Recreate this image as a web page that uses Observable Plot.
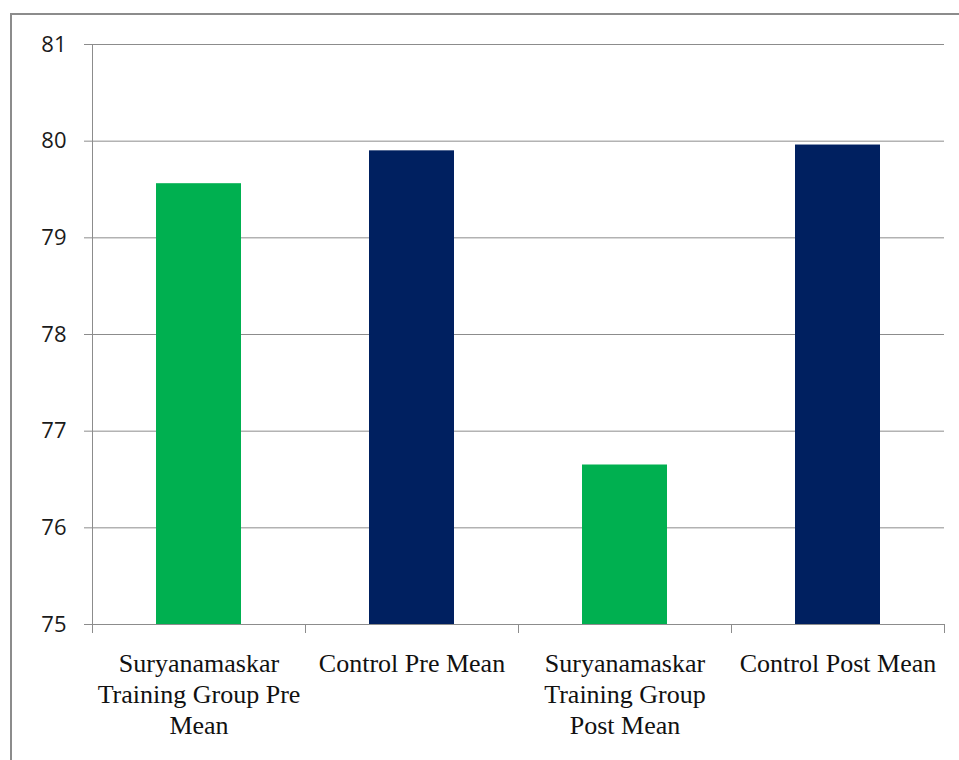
<!DOCTYPE html>
<html>
<head>
<meta charset="utf-8">
<script src="https://cdn.jsdelivr.net/npm/d3@7"></script>
<script src="https://cdn.jsdelivr.net/npm/@observablehq/plot@0.6"></script>
<style>
  html, body { margin: 0; padding: 0; background: #fff; overflow: hidden; }
  #chart { position: relative; width: 959px; height: 760px; }
  #border { position: absolute; left: 10px; top: 13px; width: 1000px; height: 800px;
            border: 2px solid #8c8c8c; box-sizing: border-box; }
  #chart svg { position: absolute; left: 0; top: 0; }
</style>
</head>
<body>
<div id="chart"><div id="border"></div></div>
<script>
// Group means before and after the Suryanamaskar programme
const categories = [
  "Suryanamaskar Training Group Pre Mean",
  "Control Pre Mean",
  "Suryanamaskar Training Group Post Mean",
  "Control Post Mean"
];
const tickLabels = [
  "Suryanamaskar\nTraining Group Pre\nMean",
  "Control Pre Mean",
  "Suryanamaskar\nTraining Group\nPost Mean",
  "Control Post Mean"
];
const means = [79.56, 79.90, 76.65, 79.96];
const groups = ["Training", "Control", "Training", "Control"];
const groupNames = ["Training", "Control"];
const groupColors = ["#00B050", "#002060"];
const yDomain = [75, 81];
const yTicks = [75, 76, 77, 78, 79, 80, 81];

const data = categories.map((c, i) => ({category: c, mean: means[i], group: groups[i]}));

const W = 959, H = 760, mL = 92, mR = 15, mT = 44, mB = 136;
const halfStep = (W - mL - mR) / categories.length / 2;
const lineColor = "#8c8c8c";
const emptyLabel = () => "";

const plot = Plot.plot({
  width: W,
  height: H,
  marginLeft: mL,
  marginRight: mR,
  marginTop: mT,
  marginBottom: mB,
  style: {background: "transparent", overflow: "visible"},
  x: {domain: categories, paddingInner: 0.6, paddingOuter: 0.3, axis: null},
  y: {domain: yDomain, axis: null},
  color: {domain: groupNames, range: groupColors},
  marks: [
    Plot.gridY(yTicks, {stroke: lineColor, strokeOpacity: 1, strokeWidth: 1}),
    Plot.axisY(yTicks, {
      label: null, tickFormat: "d",
      tickSize: 8, tickPadding: 18, stroke: lineColor, strokeOpacity: 1,
      fontFamily: "Open Sans", fontSize: 22, fill: "#1a1a1a"
    }),
    Plot.barY(data, {x: "category", y1: () => yDomain[0], y2: "mean", fill: "group"}),
    Plot.frame({anchor: "left", stroke: lineColor, strokeOpacity: 1}),
    // category separators below the baseline
    Plot.axisX(categories, {label: null, tickSize: 9, tickFormat: emptyLabel, dx: -halfStep, stroke: lineColor, strokeOpacity: 1}),
    Plot.axisX(categories.slice(-1), {label: null, tickSize: 9, tickFormat: emptyLabel, dx: halfStep, stroke: lineColor, strokeOpacity: 1}),
    // category names
    Plot.axisX(categories, {
      label: null, tickSize: 0, tickPadding: 26,
      tickFormat: d => tickLabels[categories.indexOf(d)],
      fontFamily: "Liberation Serif", fontSize: 26, lineHeight: 1.19, fill: "#111"
    })
  ]
});

document.getElementById("chart").appendChild(plot);
</script>
</body>
</html>
